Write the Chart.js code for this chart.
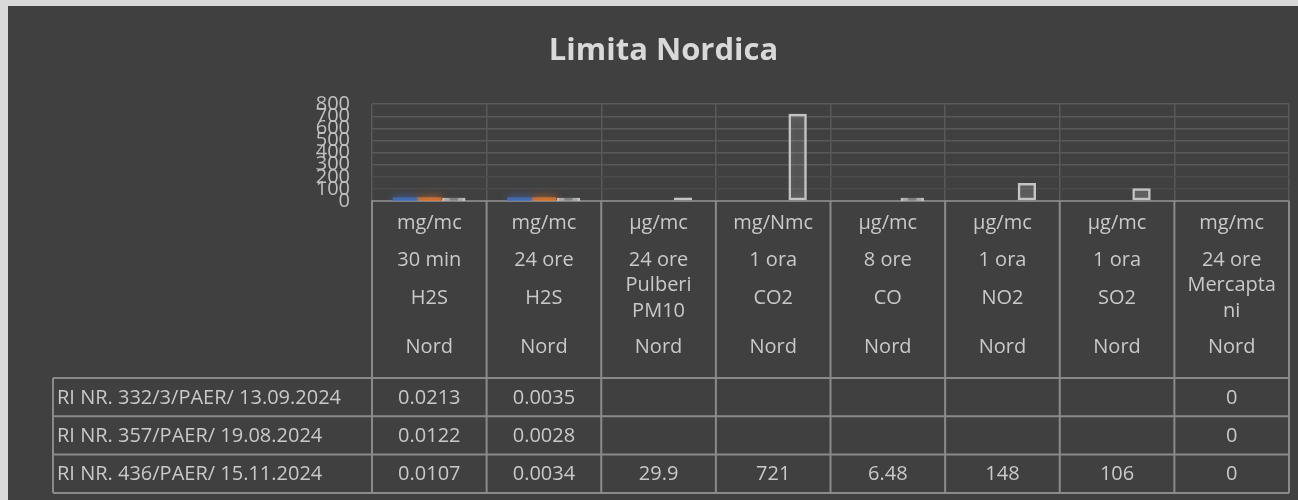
<!DOCTYPE html>
<html><head><meta charset="utf-8">
<script src="https://cdn.jsdelivr.net/npm/chart.js@4.4.0/dist/chart.umd.min.js"></script>
<style>
html,body{margin:0;padding:0;background:#d9d9d9;width:1298px;height:500px;overflow:hidden;}
#wrap{position:absolute;left:8px;top:6px;width:1290px;height:494px;background:#404040;}
canvas{display:block}
</style></head><body>
<div id="wrap"><canvas id="c" width="1290" height="494"></canvas></div>
<script>
const pollutants = ["H2S","H2S","Pulberi PM10","CO2","CO","NO2","SO2","Mercaptani"];
const pollutantLines = [["H2S"],["H2S"],["Pulberi","PM10"],["CO2"],["CO"],["NO2"],["SO2"],["Mercapta","ni"]];
const units = ["mg/mc","mg/mc","µg/mc","mg/Nmc","µg/mc","µg/mc","µg/mc","mg/mc"];
const durations = ["30 min","24 ore","24 ore","1 ora","8 ore","1 ora","1 ora","24 ore"];
const zones = ["Nord","Nord","Nord","Nord","Nord","Nord","Nord","Nord"];
const seriesNames = ["RI NR. 332/3/PAER/ 13.09.2024","RI NR. 357/PAER/ 19.08.2024","RI NR. 436/PAER/ 15.11.2024"];
const series1 = [0.0213, 0.0035, null, null, null, null, null, 0];
const series2 = [0.0122, 0.0028, null, null, null, null, null, 0];
const series3 = [0.0107, 0.0034, 29.9, 721, 6.48, 148, 106, 0];
const yMin = 0, yMax = 800, yStep = 100;

const FONT = "'Open Sans', 'DejaVu Sans', sans-serif";
const TEXT = '#c9c9c9';
const LINE = '#8a8a8a';

const glowPlugin = {
  id: 'glow',
  beforeDatasetDraw(chart, args) {
    const ctx = chart.ctx;
    ctx.save();
    const colors = ['rgba(68,114,196,0.9)','rgba(237,125,49,0.9)','rgba(220,220,220,0.45)'];
    ctx.shadowColor = colors[args.index];
    ctx.shadowBlur = args.index === 2 ? 10 : 8;
  },
  afterDatasetDraw(chart) { chart.ctx.restore(); }
};

const tablePlugin = {
  id: 'dataTable',
  afterDraw(chart) {
    const ctx = chart.ctx, a = chart.chartArea, n = pollutants.length;
    const xs = chart.scales.x;
    const cw = (a.right - a.left) / n;
    const top = a.bottom, headBottom = top + 177, rowH = 38.3, legendLeft = 45;
    const rows = [series1, series2, series3];
    const tableBottom = headBottom + rowH * rows.length;
    ctx.save();
    ctx.strokeStyle = LINE; ctx.lineWidth = 2;
    ctx.beginPath();
    for (let i = 0; i <= n; i++) {
      const x = a.left + i * cw;
      ctx.moveTo(x, top); ctx.lineTo(x, tableBottom);
    }
    ctx.moveTo(legendLeft, headBottom); ctx.lineTo(legendLeft, tableBottom);
    for (let r = 0; r <= rows.length; r++) {
      const y = headBottom + r * rowH;
      ctx.moveTo(legendLeft, y); ctx.lineTo(a.right, y);
    }
    ctx.stroke();
    ctx.fillStyle = TEXT;
    ctx.font = "20px " + FONT;
    ctx.textAlign = 'center'; ctx.textBaseline = 'middle';
    for (let i = 0; i < n; i++) {
      const cx = xs.getPixelForValue(i);
      ctx.fillText(units[i], cx, top + 22);
      ctx.fillText(durations[i], cx, top + 59);
      const pl = pollutantLines[i];
      if (pl.length === 1) ctx.fillText(pl[0], cx, top + 97);
      else { ctx.fillText(pl[0], cx, top + 84); ctx.fillText(pl[1], cx, top + 110); }
      ctx.fillText(zones[i], cx, top + 146);
      rows.forEach((row, r) => {
        const v = row[i];
        if (v !== null && v !== undefined) ctx.fillText(String(v), cx, headBottom + 1 + rowH * (r + 0.5));
      });
    }
    ctx.textAlign = 'left';
    seriesNames.forEach((nm, r) => ctx.fillText(nm, legendLeft + 4, headBottom + 1 + rowH * (r + 0.5)));
    ctx.restore();
  }
};

const tinyInflate = (amt) => (c) => { const v = c.raw; return (v !== null && v > 0 && v < 10) ? amt : 0; };

new Chart(document.getElementById('c'), {
  type: 'bar',
  data: {
    labels: pollutants,
    datasets: [
      { label: seriesNames[0], data: series1, backgroundColor: 'rgba(68,114,196,0.75)', inflateAmount: tinyInflate(3) },
      { label: seriesNames[1], data: series2, backgroundColor: 'rgba(237,125,49,0.7)', inflateAmount: tinyInflate(3) },
      { label: seriesNames[2], data: series3,
        backgroundColor: (c) => (c.raw !== null && c.raw > 0 && c.raw < 10) ? 'rgba(150,150,150,0.6)' : 'rgba(255,255,255,0.06)',
        borderColor: '#c4c4c4', borderWidth: 2.5, borderSkipped: false, inflateAmount: tinyInflate(2.5) }
    ]
  },
  options: {
    responsive: false, animation: false, devicePixelRatio: 1,
    categoryPercentage: 0.64, barPercentage: 0.75,
    layout: { padding: { left: 30, right: 9, top: 0, bottom: 299 } },
    plugins: {
      legend: { display: false },
      tooltip: { enabled: false },
      title: { display: true, text: 'Limita Nordica', color: '#d9d9d9',
        font: { family: FONT, size: 31, weight: 'bold', lineHeight: 1.2 },
        padding: { top: 27, bottom: 34 } }
    },
    scales: {
      x: {
        ticks: { display: false },
        grid: { display: true, offset: true, color: '#595959', lineWidth: 1.5, drawTicks: false },
        border: { display: true, color: '#808080', width: 2 },
        afterFit: (s) => { s.height = 0; }
      },
      y: {
        min: yMin, max: yMax,
        ticks: { stepSize: yStep, autoSkip: false, color: '#c0c0c0', padding: 22,
          font: { family: FONT, size: 20 } },
        grid: { drawTicks: false, lineWidth: 1.5,
          color: (c) => c.tick.value === 0 ? 'rgba(0,0,0,0)' : (c.tick.value <= 200 ? '#4b4b4b' : '#595959') },
        border: { display: false },
        afterFit: (s) => { s.width = 334; }
      }
    }
  },
  plugins: [glowPlugin, tablePlugin]
});
</script></body></html>
